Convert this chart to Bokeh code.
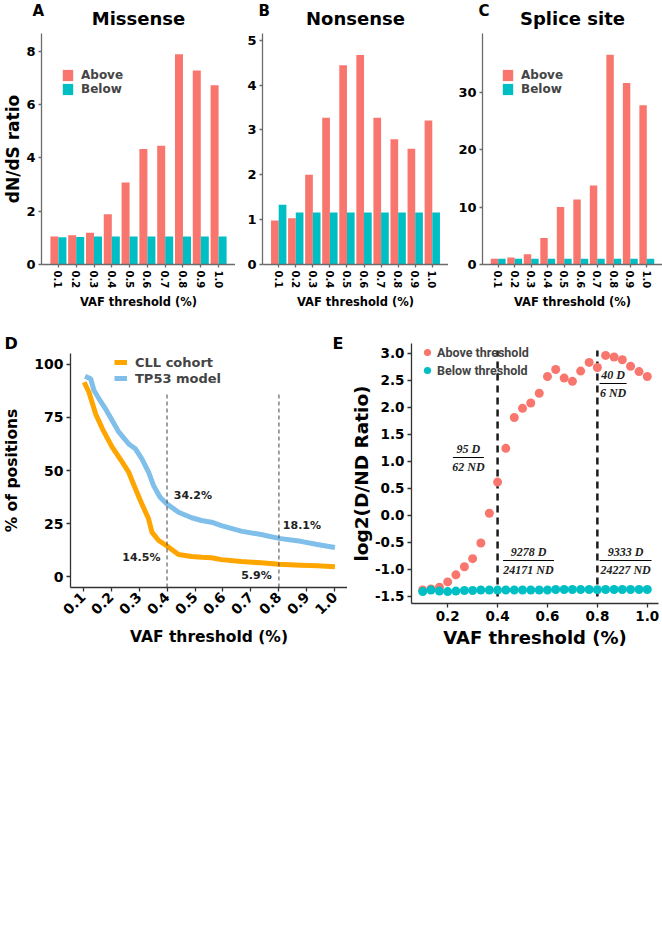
import numpy as np
from bokeh.plotting import figure
from bokeh.layouts import row, column
from bokeh.models import (FixedTicker, PrintfTickFormatter, Legend, LegendItem,
                          Label, Range1d, ColumnDataSource, Title)
from bokeh.core.properties import value
from bokeh.embed import file_html
from bokeh.resources import INLINE

FONT = "DejaVu Sans"
RED = "#F8766D"
CYAN = "#00BFC4"
ORANGE = "#FFA500"
BLUE = "#7FBFEA"

# ---- dN/dS ratios by VAF threshold (panels A-C) ----
thresholds = ["0.1", "0.2", "0.3", "0.4", "0.5", "0.6", "0.7", "0.8", "0.9", "1.0"]
missense_above = [1.05, 1.10, 1.19, 1.88, 3.07, 4.33, 4.45, 7.88, 7.27, 6.72]
missense_below = [1.02, 1.03, 1.05, 1.05, 1.05, 1.05, 1.05, 1.05, 1.05, 1.05]
nonsense_above = [0.98, 1.03, 2.00, 3.27, 4.44, 4.67, 3.27, 2.79, 2.58, 3.21]
nonsense_below = [1.33, 1.16, 1.16, 1.16, 1.16, 1.16, 1.16, 1.16, 1.16, 1.16]
splice_above = [1.0, 1.2, 1.8, 4.6, 10.0, 11.3, 13.75, 36.5, 31.6, 27.7]
splice_below = [1.0, 1.0, 1.0, 1.0, 1.0, 1.0, 1.0, 1.0, 1.0, 1.0]

# ---- % of positions above each VAF threshold (panel D) ----
vaf_cll = [0.104, 0.121, 0.145, 0.169, 0.204, 0.240, 0.263, 0.287, 0.310, 0.334,
           0.346, 0.370, 0.400, 0.441, 0.488, 0.523, 0.559, 0.594, 0.665, 0.736,
           0.800, 0.878, 0.937, 1.000]
cll = [91.5, 86.8, 76.6, 69.6, 61.0, 53.9, 49.2, 41.4, 34.3, 27.3,
       21.0, 17.1, 14.5, 10.5, 9.6, 9.2, 9.0, 8.1, 7.2, 6.6,
       5.9, 5.5, 5.2, 4.7]
vaf_tp53 = [0.107, 0.127, 0.139, 0.157, 0.180, 0.204, 0.228, 0.263, 0.287, 0.310,
            0.334, 0.352, 0.375, 0.400, 0.441, 0.488, 0.523, 0.559, 0.594, 0.665,
            0.736, 0.800, 0.878, 0.937, 1.000]
tp53 = [94.3, 93.1, 87.6, 83.7, 79.0, 73.5, 68.0, 62.5, 60.2, 55.5,
        49.2, 42.9, 37.4, 34.2, 30.4, 27.8, 26.5, 25.7, 24.1, 21.5,
        19.9, 18.1, 16.7, 15.2, 13.8]
cutoffs = [0.4, 0.8]

# ---- log2(D/ND) above / below each threshold (panel E) ----
vaf_e = [0.100, 0.133, 0.167, 0.200, 0.233, 0.267, 0.300, 0.333, 0.367, 0.400,
         0.433, 0.467, 0.500, 0.533, 0.567, 0.600, 0.633, 0.667, 0.700, 0.733,
         0.767, 0.800, 0.833, 0.867, 0.900, 0.933, 0.967, 1.000]
above_e = [-1.38, -1.36, -1.33, -1.23, -1.10, -0.95, -0.80, -0.51, 0.04, 0.62,
           1.24, 1.81, 1.98, 2.08, 2.26, 2.57, 2.70, 2.54, 2.48, 2.67,
           2.83, 2.74, 2.96, 2.93, 2.88, 2.76, 2.66, 2.57]
below_e = [-1.41, -1.38, -1.40, -1.41, -1.40, -1.39, -1.39, -1.38, -1.38, -1.38,
           -1.38, -1.38, -1.38, -1.38, -1.38, -1.38, -1.37, -1.37, -1.37, -1.37,
           -1.37, -1.38, -1.37, -1.37, -1.37, -1.37, -1.37, -1.37]
# D / ND counts at the two cutoffs: (vaf, D above, ND above, D below, ND below)
counts = [(0.4, 95, 62, 9278, 24171), (0.8, 40, 6, 9333, 24227)]
for vaf, da, nda, db, ndb in counts:
    i = vaf_e.index(vaf)
    above_e[i] = float(np.log2(da / nda))
    below_e[i] = float(np.log2(db / ndb))


def style(p, tick_px, axis_color, tick_font):
    p.xgrid.visible = False
    p.ygrid.visible = False
    p.outline_line_color = None
    p.background_fill_color = "white"
    p.border_fill_color = "white"
    for ax in (p.xaxis[0], p.yaxis[0]):
        ax.axis_line_color = axis_color
        ax.axis_line_width = 1.3
        ax.major_tick_line_color = axis_color
        ax.major_tick_line_width = 1.3
        ax.major_tick_out = tick_px
        ax.major_tick_in = 0
        ax.minor_tick_line_color = None
        ax.major_label_text_font = FONT
        ax.major_label_text_font_style = "bold"
        ax.major_label_text_color = "black"
        ax.major_label_text_font_size = tick_font
        ax.major_label_standoff = 3
        ax.axis_label_text_font = FONT
        ax.axis_label_text_font_style = "bold"
        ax.axis_label_text_color = "black"


def add_title(p, text, size, align="center", offset=0, standoff=4):
    # titles stack outward from the frame in the order they are added
    p.add_layout(Title(text=text, align=align, offset=offset, standoff=standoff,
                       text_font=FONT, text_font_style="bold", text_font_size=size,
                       text_color="black"), "above")


def bar_panel(title, tag, above, below, ymax, yticks, width, left, legend_at=None,
              ylabel=None):
    p = figure(width=width, height=312, output_backend="svg", toolbar_location=None,
               x_range=Range1d(0.05, 10.95), y_range=Range1d(0, ymax),
               min_border_left=left, min_border_right=0, min_border_top=33,
               min_border_bottom=48)
    add_title(p, title, "18px", standoff=9)
    add_title(p, tag, "15px", align="left", offset=-9 if ylabel else -4, standoff=-36)
    pos = np.arange(1, len(thresholds) + 1)
    src = ColumnDataSource(dict(xa=pos - 0.225, xb=pos + 0.225, above=above, below=below))
    ra = p.vbar(x="xa", top="above", bottom=0, width=0.45, source=src,
                fill_color=RED, line_color=None)
    rb = p.vbar(x="xb", top="below", bottom=0, width=0.45, source=src,
                fill_color=CYAN, line_color=None)
    style(p, 3, "#6b6b6b", "13px")
    p.xaxis.ticker = FixedTicker(ticks=list(pos))
    p.xaxis.major_label_overrides = {int(k): t for k, t in zip(pos, thresholds)}
    p.xaxis.major_label_orientation = "vertical"
    p.xaxis.major_label_text_font_size = "10px"
    p.xaxis.axis_label = "VAF threshold (%)"
    p.xaxis.axis_label_text_font_size = "11.5px"
    p.xaxis.axis_label_standoff = 4
    p.yaxis.ticker = FixedTicker(ticks=yticks)
    if ylabel:
        p.yaxis.axis_label = ylabel
        p.yaxis.axis_label_text_font_size = "17px"
        p.yaxis.axis_label_standoff = 0
    if legend_at:
        lg = Legend(items=[LegendItem(label="Above", renderers=[ra]),
                           LegendItem(label="Below", renderers=[rb])],
                    location=legend_at, padding=0, margin=0, spacing=0,
                    glyph_width=13, glyph_height=14, label_height=14,
                    label_standoff=7, label_text_font=FONT,
                    label_text_font_style="bold", label_text_font_size="12px",
                    border_line_color=None, background_fill_alpha=0)
        p.add_layout(lg)
    return p


pA = bar_panel("Missense", "A", missense_above, missense_below, 8.66, [0, 2, 4, 6, 8],
               235, 37, legend_at=(20, 168), ylabel="dN/dS ratio")
pB = bar_panel("Nonsense", "B", nonsense_above, nonsense_below, 5.15, [0, 1, 2, 3, 4, 5],
               213, 27)
pC = bar_panel("Splice site", "C", splice_above, splice_below, 40.2, [0, 10, 20, 30],
               214, 34, legend_at=(19, 168))

# ---- panel D ----
pD = figure(width=347, height=345, output_backend="svg", toolbar_location=None,
            x_range=Range1d(0.055, 1.045), y_range=Range1d(-5, 105),
            min_border_left=68, min_border_right=0, min_border_top=41,
            min_border_bottom=70)
add_title(pD, "D", "16px", align="left", offset=-66, standoff=2)
# the "E" tag sits just right of this figure's top corner
add_title(pD, "E", "16px", align="right", offset=4, standoff=-44)
rc = pD.line(vaf_cll, cll, line_width=5, line_color=ORANGE, line_join="round")
rt = pD.line(vaf_tp53, tp53, line_width=5, line_color=BLUE, line_join="round")
pD.segment(x0=cutoffs, y0=[-5, -5], x1=cutoffs, y1=[86, 86], line_color="#444444",
           line_width=1, line_dash="4 3")
style(pD, 4, "#333333", "14px")
pD.xaxis.ticker = FixedTicker(ticks=[0.1, 0.2, 0.3, 0.4, 0.5, 0.6, 0.7, 0.8, 0.9, 1.0])
pD.xaxis.formatter = PrintfTickFormatter(format="%.1f")
pD.xaxis.major_label_orientation = np.pi / 4
pD.xaxis.axis_label = "VAF threshold (%)"
pD.xaxis.axis_label_text_font_size = "15.5px"
pD.xaxis.axis_label_standoff = 6
pD.yaxis.ticker = FixedTicker(ticks=[0, 25, 50, 75, 100])
pD.yaxis.axis_label = "% of positions"
pD.yaxis.axis_label_text_font_size = "15.5px"
pD.yaxis.axis_label_standoff = 10
for vaf, xo, yo, series, xs in [(0.4, 0.424, 38.2, tp53, vaf_tp53),
                                (0.4, 0.240, 9.1, cll, vaf_cll),
                                (0.8, 0.814, 24.1, tp53, vaf_tp53),
                                (0.8, 0.665, 0.6, cll, vaf_cll)]:
    pD.add_layout(Label(x=xo, y=yo, text=f"{series[xs.index(vaf)]}%",
                        text_font=FONT, text_font_style="bold", text_font_size="11px",
                        text_baseline="middle", text_color="#222222"))
lgD = Legend(items=[LegendItem(label="CLL cohort", renderers=[rc]),
                    LegendItem(label="TP53 model", renderers=[rt])],
             location=(44, 201), padding=0, margin=0, spacing=0,
             glyph_width=13, glyph_height=16, label_height=16, label_standoff=8,
             label_text_font=FONT, label_text_font_style="bold",
             label_text_font_size="13px", border_line_color=None,
             background_fill_alpha=0)
pD.add_layout(lgD)

# ---- panel E ----
pE = figure(width=315, height=345, output_backend="svg", toolbar_location=None,
            x_range=Range1d(0.055, 1.045), y_range=Range1d(-1.63, 3.18),
            min_border_left=63, min_border_right=4, min_border_top=31,
            min_border_bottom=54)
pE.segment(x0=cutoffs, y0=[-1.5, -1.5], x1=cutoffs, y1=[3.05, 3.05],
           line_color="#1a1a1a", line_width=2.5, line_dash="7 5")
ra = pE.scatter(vaf_e, above_e, size=9, fill_color=RED, line_color=None)
rb = pE.scatter(vaf_e, below_e, size=9, fill_color=CYAN, line_color=None)
style(pE, 4, "#333333", "13.5px")
pE.xaxis.ticker = FixedTicker(ticks=[0.2, 0.4, 0.6, 0.8, 1.0])
pE.xaxis.formatter = PrintfTickFormatter(format="%.1f")
pE.xaxis.axis_label = "VAF threshold (%)"
pE.xaxis.axis_label_text_font_size = "18px"
pE.xaxis.axis_label_standoff = 3
pE.yaxis.ticker = FixedTicker(ticks=[-1.5, -1.0, -0.5, 0.0, 0.5, 1.0, 1.5, 2.0, 2.5, 3.0])
pE.yaxis.formatter = PrintfTickFormatter(format="%.1f")
pE.yaxis.axis_label = "log2(D/ND Ratio)"
pE.yaxis.axis_label_text_font_size = "18.5px"
pE.yaxis.axis_label_standoff = 0

# count fractions next to the cutoffs
frac_x = [0.283, 0.863, 0.524, 0.913]
frac_y = [1.071, 2.44, -0.835, -0.835]
frac_w = [0.062, 0.054, 0.102, 0.104]
num = [f"{counts[0][1]} D", f"{counts[1][1]} D", f"{counts[0][3]} D", f"{counts[1][3]} D"]
den = [f"{counts[0][2]} ND", f"{counts[1][2]} ND", f"{counts[0][4]} ND", f"{counts[1][4]} ND"]
fsrc = ColumnDataSource(dict(x=frac_x, y=frac_y, x0=[a - w for a, w in zip(frac_x, frac_w)],
                             x1=[a + w for a, w in zip(frac_x, frac_w)], num=num, den=den))
pE.segment(x0="x0", y0="y", x1="x1", y1="y", source=fsrc, line_color="black", line_width=1)
pE.text(x="x", y="y", text="num", source=fsrc, text_align="center",
        text_baseline="bottom", y_offset=-2, text_font=value("Liberation Serif"),
        text_font_style="bold italic", text_font_size="12px", text_color="#222222")
pE.text(x="x", y="y", text="den", source=fsrc, text_align="center",
        text_baseline="top", y_offset=2, text_font=value("Liberation Serif"),
        text_font_style="bold italic", text_font_size="12px", text_color="#222222")

lgE = Legend(items=[LegendItem(label="Above threshold", renderers=[ra]),
                    LegendItem(label="Below threshold", renderers=[rb])],
             location=(7, 224), padding=0, margin=0, spacing=-1,
             glyph_width=18, glyph_height=18, label_height=17, label_standoff=1,
             label_text_font="Roboto", label_text_font_style="bold",
             label_text_font_size="12.5px", border_line_color=None,
             background_fill_alpha=0)
pE.add_layout(lgE)

layout = column(row(pA, pB, pC), row(column(pD), column(pE)))
open("out.html", "w").write(file_html(layout, INLINE))
